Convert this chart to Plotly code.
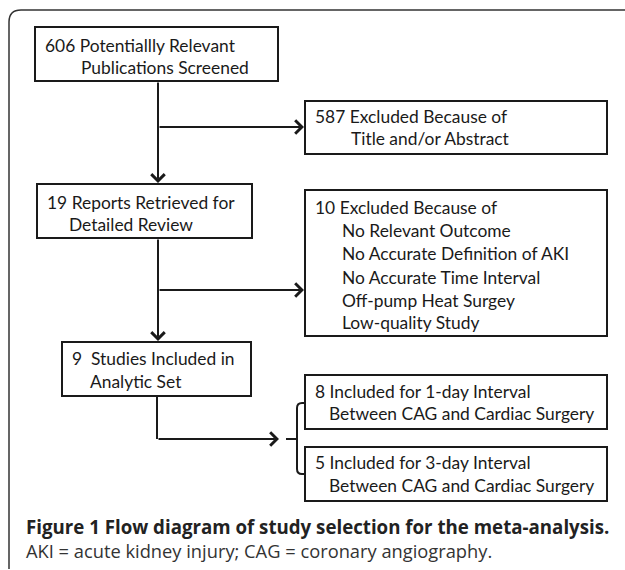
import plotly.graph_objects as go

# ---- content (text of the flow diagram) ----
box_titles = [
    ["606 Potentiallly Relevant", "Publications Screened"],
    ["587 Excluded Because of", "Title and/or Abstract"],
    ["19 Reports Retrieved for", "Detailed Review"],
    ["10 Excluded Because of", "No Relevant Outcome", "No Accurate Definition of AKI",
     "No Accurate Time Interval", "Off-pump Heat Surgey", "Low-quality Study"],
    ["9\u00a0 Studies Included in", "Analytic Set"],
    ["8 Included for 1-day Interval", "Between CAG and Cardiac Surgery"],
    ["5 Included for 3-day Interval", "Between CAG and Cardiac Surgery"],
]
caption_title = "Figure 1 Flow diagram of study selection for the meta-analysis."
caption_note = "AKI = acute kidney injury; CAG = coronary angiography."

# ---- layout geometry (pixel space of the page) ----
box_rects = [
    (35, 27, 278, 81),
    (305, 101, 607, 154),
    (37, 184, 252, 238),
    (305, 190, 607, 336),
    (62, 342, 251, 396),
    (305, 375, 607, 429),
    (305, 447, 607, 501),
]
text_x = [
    [43, 79],
    [313, 349],
    [45, 67],
    [313, 340, 340, 340, 340, 340],
    [70, 88],
    [313, 327],
    [313, 327],
]
text_y = [
    [45, 67],
    [116, 138],
    [202, 224],
    [207, 230, 253, 277, 300, 322],
    [358, 381],
    [391, 413],
    [462, 485],
]

W, H = 625, 570
LINE = "#1a1a1a"
box_font = dict(family="Lato, Calibri, sans-serif", size=17.4, color="#1a1a1a")

fig = go.Figure()
fig.add_trace(go.Scatter(x=[0, W], y=[0, H], mode="markers",
                         marker=dict(opacity=0), hoverinfo="skip", showlegend=False))

shapes = []
# outer panel border (top + left, rounded corner)
shapes.append(dict(type="path", xref="x", yref="y",
                   path="M 9,569 L 9,22 Q 9,10 21,10 L 625,10",
                   line=dict(color="#333333", width=1.5)))
for (x0, y0, x1, y1) in box_rects:
    shapes.append(dict(type="rect", xref="x", yref="y", x0=x0, y0=y0, x1=x1, y1=y1,
                       line=dict(color=LINE, width=2), fillcolor="white"))
# connector from box 5 down
shapes.append(dict(type="line", xref="x", yref="y", x0=157, y0=396, x1=157, y1=439,
                   line=dict(color=LINE, width=2)))
# bracket
shapes.append(dict(type="path", xref="x", yref="y",
                   path="M 305,403 L 302,403 Q 297,403 297,408 L 297,469 Q 297,474 302,474 L 305,474",
                   line=dict(color=LINE, width=2)))
shapes.append(dict(type="line", xref="x", yref="y", x0=286, y0=439, x1=297, y1=439,
                   line=dict(color=LINE, width=2)))

annotations = []
arrows = [
    ((158, 81), (158, 183)),
    ((158, 127), (304, 127)),
    ((158, 238), (158, 341)),
    ((158, 290), (304, 290)),
    ((157, 439), (279, 439)),
]
for (tx, ty), (hx, hy) in arrows:
    annotations.append(dict(x=hx, y=hy, ax=tx, ay=ty, xref="x", yref="y",
                            axref="x", ayref="y", text="", showarrow=True,
                            arrowhead=4, arrowsize=1.3, arrowwidth=2,
                            arrowcolor=LINE, standoff=0, startstandoff=0))

for lines, xs, ys in zip(box_titles, text_x, text_y):
    for t, x, y in zip(lines, xs, ys):
        annotations.append(dict(x=x, y=y, xref="x", yref="y", text=t, showarrow=False,
                                xanchor="left", yanchor="middle", font=box_font))

annotations.append(dict(x=24, y=526, xref="x", yref="y", text="<b>" + caption_title + "</b>",
                        showarrow=False, xanchor="left", yanchor="middle",
                        font=dict(family="Open Sans, sans-serif", size=18.7, color="#222222")))
annotations.append(dict(x=24, y=550, xref="x", yref="y", text=caption_note,
                        showarrow=False, xanchor="left", yanchor="middle",
                        font=dict(family="Open Sans, sans-serif", size=18.3, color="#333333")))

fig.update_layout(
    width=W, height=H, margin=dict(l=0, r=0, t=0, b=0),
    paper_bgcolor="white", plot_bgcolor="white",
    xaxis=dict(range=[0, W], visible=False, fixedrange=True),
    yaxis=dict(range=[H, 0], visible=False, fixedrange=True),
    shapes=shapes, annotations=annotations, showlegend=False,
)
fig.write_html("out.html", config={"displayModeBar": False},
               post_script="document.body.style.margin='0';")
